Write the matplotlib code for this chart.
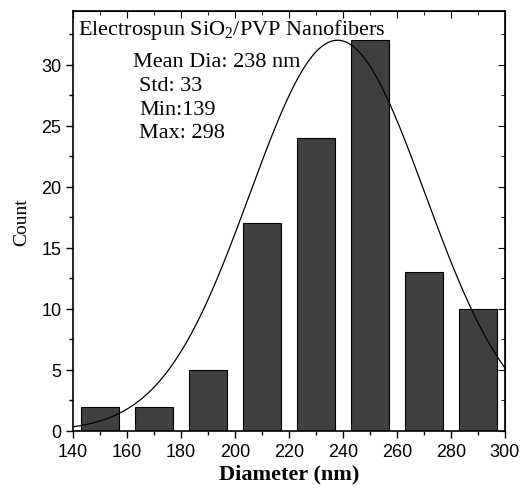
import numpy as np
import matplotlib
matplotlib.use("Agg")
import matplotlib.pyplot as plt
from matplotlib.ticker import MultipleLocator

plt.rcParams["mathtext.fontset"] = "custom"
plt.rcParams["mathtext.rm"] = "Liberation Serif"
plt.rcParams["mathtext.it"] = "Liberation Serif:italic"
plt.rcParams["mathtext.bf"] = "Liberation Serif:bold"

bin_centers = [150, 170, 190, 210, 230, 250, 270, 290]
counts = [2, 2, 5, 17, 24, 32, 13, 10]
fit_mean = 238
fit_std = 32.5
fit_peak = 32
x_ticks = [140, 160, 180, 200, 220, 240, 260, 280, 300]
y_ticks = [0, 5, 10, 15, 20, 25, 30]

fig = plt.figure(figsize=(5.22, 4.89), dpi=100)
ax = fig.add_axes([0.14, 0.1166, 0.827, 0.859])

ax.bar(bin_centers, counts, width=14, color="#404040", edgecolor="black", linewidth=0.8, zorder=2)
xs = np.linspace(140, 300, 400)
ax.plot(xs, fit_peak * np.exp(-0.5 * ((xs - fit_mean) / fit_std) ** 2), color="black", lw=0.9, zorder=3)

ax.set_xlim(140, 300)
ax.set_ylim(0, 34.4)
ax.set_xticks(x_ticks)
ax.set_yticks(y_ticks)
ax.xaxis.set_minor_locator(MultipleLocator(10))
ax.yaxis.set_minor_locator(MultipleLocator(2.5))
ax.tick_params(axis="both", which="both", direction="out", top=False, right=False,
               labelsize=13, width=1)
ax.tick_params(which="major", length=5)
ax.tick_params(which="minor", length=3)
for lbl in ax.get_xticklabels() + ax.get_yticklabels():
    lbl.set_fontfamily("Liberation Sans")

# inward ticks on top and right
secx = ax.secondary_xaxis("top")
secx.set_xticks(x_ticks)
secx.xaxis.set_minor_locator(MultipleLocator(10))
secx.tick_params(which="both", direction="in", labeltop=False)
secx.tick_params(which="major", length=5)
secx.tick_params(which="minor", length=3)
secy = ax.secondary_yaxis("right")
secy.set_yticks(y_ticks)
secy.yaxis.set_minor_locator(MultipleLocator(2.5))
secy.tick_params(which="both", direction="in", labelright=False)
secy.tick_params(which="major", length=5)
secy.tick_params(which="minor", length=3)

for s in ax.spines.values():
    s.set_linewidth(1.2)

ax.set_xlabel("Diameter (nm)", fontfamily="Liberation Serif", fontweight="bold", fontsize=16, labelpad=3)
ax.set_ylabel("Count", fontfamily="Liberation Serif", fontsize=14, labelpad=8)

serif = "Liberation Serif"
fig.text(78 / 522, 1 - 35 / 489, "Electrospun SiO$_2$/PVP Nanofibers", fontfamily=serif, fontsize=16,
         va="baseline", ha="left")
fig.text(133 / 522, 1 - 67 / 489, "Mean Dia: 238 nm", fontfamily=serif, fontsize=16, va="baseline")
fig.text(139 / 522, 1 - 91 / 489, "Std: 33", fontfamily=serif, fontsize=16, va="baseline")
fig.text(139 / 522, 1 - 115 / 489, "Min:139", fontfamily=serif, fontsize=16, va="baseline")
fig.text(139 / 522, 1 - 138 / 489, "Max: 298", fontfamily=serif, fontsize=16, va="baseline")

fig.savefig("out.png", dpi=100)
